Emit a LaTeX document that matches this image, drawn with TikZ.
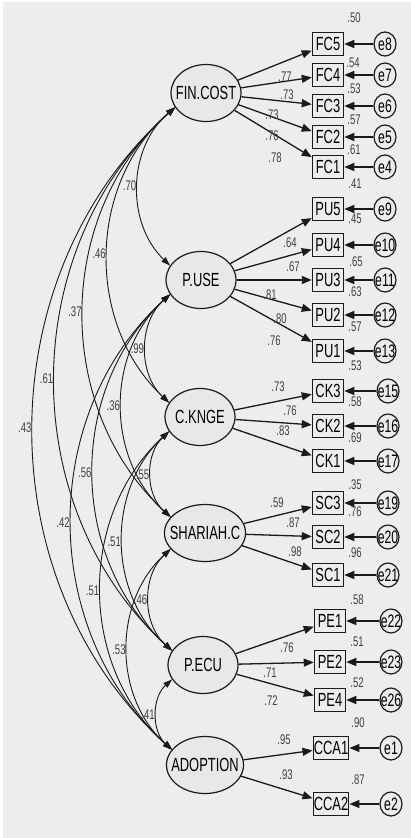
\documentclass[tikz,border=0pt]{standalone}
\usepackage{fontspec}
\setmainfont{Liberation Sans}[FakeStretch=0.68]
\usetikzlibrary{arrows.meta,shapes.geometric}
\definecolor{PGray}{HTML}{EDEDED}
\definecolor{PFill}{HTML}{E8E8E8}
\definecolor{PInk}{HTML}{1A1A1A}

\begin{document}
\begin{tikzpicture}[
  x=1pt,y=-1pt,
  lat/.style={ellipse,draw=PInk,line width=1.2pt,fill=PFill,
    minimum width=70pt,minimum height=57pt,inner xsep=-6.5pt,inner ysep=0pt,
    font=\fontsize{19}{19}\selectfont},
  obs/.style={rectangle,draw=PInk,line width=1.5pt,fill=PGray,
    minimum width=31pt,minimum height=23pt,inner xsep=0.5pt,inner ysep=0pt,
    font=\fontsize{19}{19}\selectfont},
  err/.style={ellipse,draw=PInk,line width=1.2pt,fill=PGray,
    minimum width=22pt,minimum height=24pt,inner xsep=-3.5pt,inner ysep=0pt,
    font=\fontsize{18}{18}\selectfont},
  lbl/.style={inner sep=0.5pt,text=black!75,font=\fontsize{14}{14}\selectfont},
  a/.style={-{Triangle[length=10pt,width=8pt]},line width=1.3pt,color=PInk},
  cov/.style={{Triangle[length=9pt,width=6pt]}-{Triangle[length=9pt,width=6pt]},
    line width=0.9pt,color=PInk}
]
  \useasboundingbox (0,0) rectangle (411,838);
  \fill[white] (0,0) rectangle (411,838);
  \fill[PGray] (3,2) rectangle (411,838);

  % latent variables
  \node[lat] (fin) at (206,93) {FIN.COST};
  \node[lat] (puse) at (201,280) {P.USE};
  \node[lat] (ck) at (200,417) {C.KNGE};
  \node[lat] (sh) at (205,533) {SHARIAH.C};
  \node[lat] (pe) at (203,665) {P.ECU};
  \node[lat] (ad) at (205,765) {ADOPTION};

  % indicators with their error terms
  \foreach \n/\t/\x/\y/\l/\e/\ex in {
      fc5/FC5/328/44/fin/e8/385, fc4/FC4/328/75/fin/e7/385,
      fc3/FC3/328/106/fin/e6/385, fc2/FC2/328/137/fin/e5/385,
      fc1/FC1/328/167/fin/e4/385,
      pu5/PU5/328/209/puse/e9/385, pu4/PU4/328/245/puse/e10/385,
      pu3/PU3/328/280/puse/e11/385, pu2/PU2/328/315/puse/e12/385,
      pu1/PU1/328/351/puse/e13/385,
      ck3/CK3/328/391/ck/e15/388, ck2/CK2/328/426/ck/e16/388,
      ck1/CK1/328/461/ck/e17/388,
      sc3/SC3/328/503/sh/e19/388, sc2/SC2/328/537/sh/e20/388,
      sc1/SC1/328/575/sh/e21/388,
      pe1/PE1/330/621/pe/e22/391, pe2/PE2/330/662/pe/e23/391,
      pe4/PE4/330/700/pe/e26/391,
      cca1/CCA1/331/748/ad/e1/391, cca2/CCA2/331/804/ad/e2/391}
  {
    \node[obs] (\n) at (\x,\y) {\t};
    \node[err] (\e) at (\ex,\y) {\e};
    \draw[a] (\e) -- (\n);
    \draw[a] (\l) -- (\n);
  }

  % factor loadings
  \foreach \n/\x/\y/\v in {
      fc5/285/77/.77, fc4/287/95/.73, fc3/272/115/.73, fc2/272/136/.76,
      fc1/275/158/.78,
      pu5/290/243/.64, pu4/293/267/.67, pu3/270/295/.81, pu2/280/319/.80,
      pu1/274/341/.76,
      ck3/278/387/.73, ck2/290/411/.76, ck1/283/431/.83,
      sc3/277/503/.59, sc2/293/523/.87, sc1/295/552/.98,
      pe1/287/648/.76, pe2/270/673/.71, pe4/271/701/.72,
      cca1/284/740/.95, cca2/286/775/.93}
    {\node[lbl] (w-\n) at (\x,\y) {\v};}

  % squared multiple correlations
  \foreach \n/\x/\y/\v in {
      fc5/354/18/.50, fc4/353/63/.54, fc3/354/89/.53, fc2/354/120/.57,
      fc1/354/150/.61,
      pu5/355/184/.41, pu4/355/219/.45, pu3/356/262/.65, pu2/355/292/.63,
      pu1/355/327/.57,
      ck3/355/366/.53, ck2/355/402/.58, ck1/355/438/.69,
      sc3/355/485/.35, sc2/355/512/.76, sc1/355/553/.96,
      pe1/357/600/.58, pe2/357/642/.51, pe4/357/683/.52,
      cca1/358/723/.90, cca2/358/780/.87}
    {\node[lbl] (r-\n) at (\x,\y) {\v};}

  % correlations between latent variables
  \foreach \p/\q/\v in {fin/puse/.70, fin/ck/.46, fin/sh/.37, fin/pe/.61,
      fin/ad/.43, puse/ck/.99, puse/sh/.36, puse/pe/.56, puse/ad/.42,
      ck/sh/.55, ck/pe/.51, ck/ad/.51, sh/pe/.46, sh/ad/.53, pe/ad/.41}
    {\draw[cov] (\p.205) to[bend right=48]
       node[lbl,left=1pt] (c-\p-\q) {\v} (\q.155);}
\end{tikzpicture}
\end{document}
